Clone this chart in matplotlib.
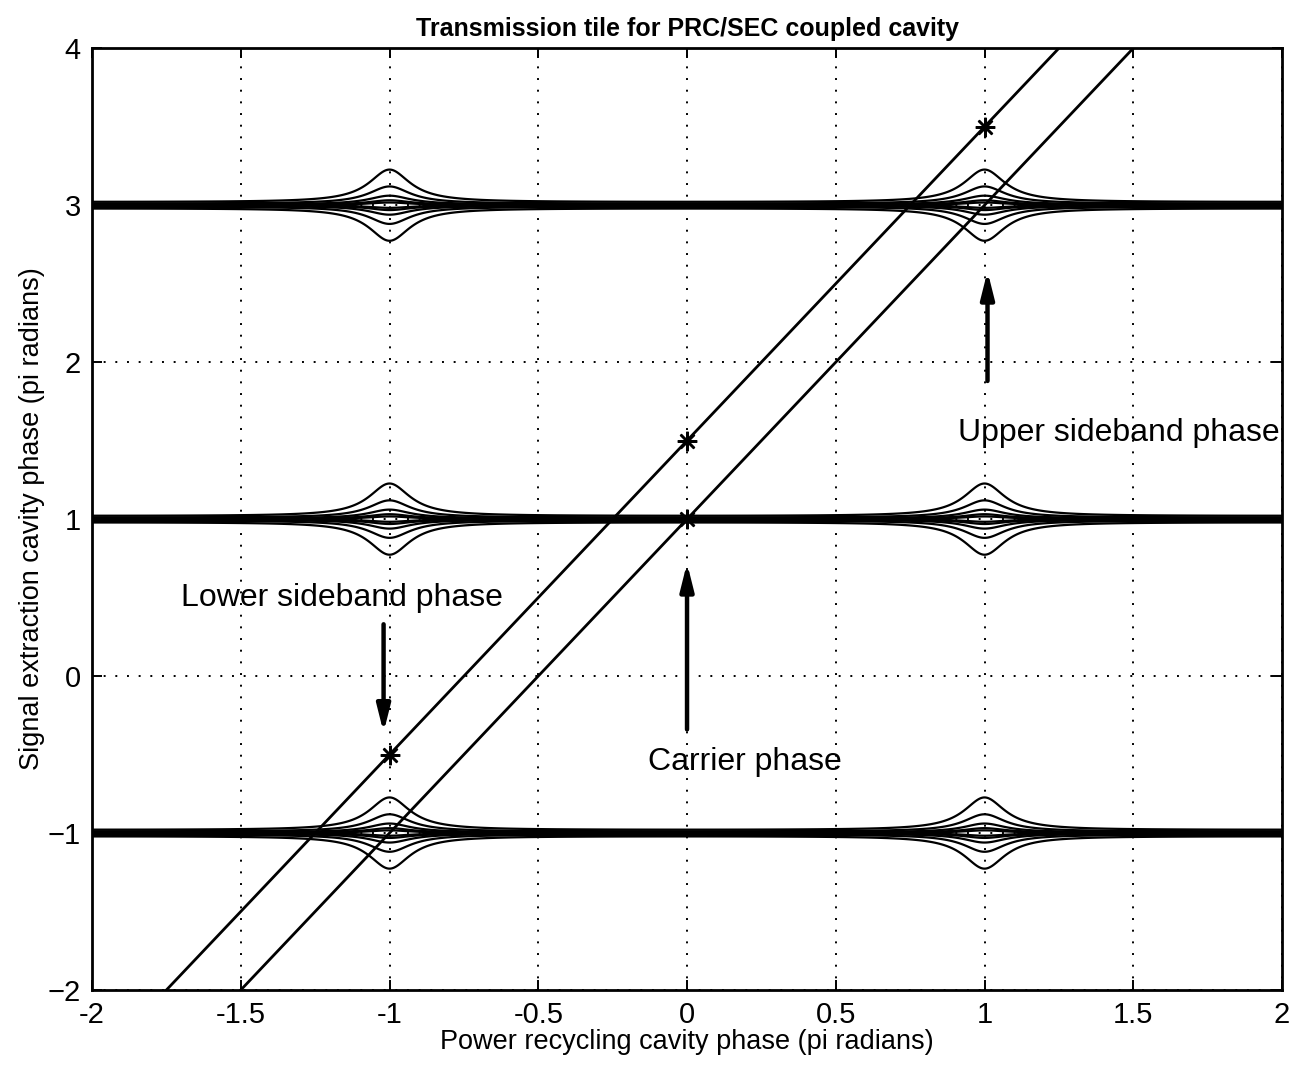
import numpy as np
import matplotlib
matplotlib.use("Agg")
import matplotlib.pyplot as plt

plt.rcParams['font.family'] = ['Liberation Sans', 'DejaVu Sans']

# ridge model: SEC resonances at odd y, broadened where the PRC resonates (x = +-1)
ridge_width_far = 0.006
ridge_width_res = 0.068
prc_finesse_coef = 55.0
levels = [0.10, 0.28, 0.60, 0.85, 0.95]

# phase lines (pi radians)
upper_line_x = [-1.75, 1.25]
upper_line_y = [-2.0, 4.0]
lower_line_x = [-1.5, 1.5]
lower_line_y = [-2.0, 4.0]

star_x = [-1.0, 0.0, 0.0, 1.0]
star_y = [-0.5, 1.5, 1.0, 3.5]

xticks = [-2, -1.5, -1, -0.5, 0, 0.5, 1, 1.5, 2]
xtick_labels = ['-2', '-1.5', '-1', '-0.5', '0', '0.5', '1', '1.5', '2']
yticks = [-2, -1, 0, 1, 2, 3, 4]

notes = ['Upper sideband phase', 'Lower sideband phase', 'Carrier phase']
note_xy = [(0.91, 1.55), (-1.70, 0.50), (-0.13, -0.55)]
arrow_from = [(1.01, 1.88), (-1.02, 0.33), (0.0, -0.34)]
arrow_to = [(1.01, 2.58), (-1.02, -0.36), (0.0, 0.72)]

px = np.linspace(-2, 2, 2001)
sy = np.linspace(-2, 4, 3001)
X, Y = np.meshgrid(px, sy)
prc = 1.0 / (1.0 + prc_finesse_coef * np.sin(np.pi * (X - 1) / 2) ** 2)
w = ridge_width_far + ridge_width_res * prc
d = (2 / np.pi) * np.sin(np.pi * (Y - 1) / 2)
T = 1.0 / (1.0 + (d / w) ** 2)

fig = plt.figure(figsize=(12.98, 10.69), dpi=100)
ax = fig.add_axes([0.0709, 0.0739, 0.9168, 0.881])

ax.contour(X, Y, T, levels=levels, colors='black', linewidths=1.6)

ax.plot(upper_line_x, upper_line_y, color='black', lw=2.0)
ax.plot(lower_line_x, lower_line_y, color='black', lw=2.0)
ax.plot(star_x, star_y, linestyle='none', marker=(8, 2, 0), markersize=14,
        color='black', markeredgewidth=1.8)

for txt, (tx, ty) in zip(notes, note_xy):
    ax.text(tx, ty, txt, fontsize=23, ha='left', va='center')
for (x0, y0), (x1, y1) in zip(arrow_from, arrow_to):
    ax.annotate('', xy=(x1, y1), xytext=(x0, y0),
                arrowprops=dict(arrowstyle='-|>,head_length=1.6,head_width=0.4',
                                color='black', lw=3.2, shrinkA=0, shrinkB=0))

ax.set_xlim(-2, 2)
ax.set_ylim(-2, 4)
ax.set_xticks(xticks)
ax.set_xticklabels(xtick_labels)
ax.set_yticks(yticks)
ax.grid(True, color='black', linestyle=(0, (1, 5)), linewidth=1.4)
ax.tick_params(direction='in', length=7, width=1.4, labelsize=21,
               top=True, right=True, pad=8)
for s in ax.spines.values():
    s.set_linewidth(2.0)

ax.set_xlabel('Power recycling cavity phase (pi radians)', fontsize=19.5, labelpad=0)
ax.set_ylabel('Signal extraction cavity phase (pi radians)', fontsize=19.5, labelpad=2)
ax.set_title('Transmission tile for PRC/SEC coupled cavity', fontsize=18,
             fontweight='bold', pad=9)

fig.savefig('out.png', dpi=100)
